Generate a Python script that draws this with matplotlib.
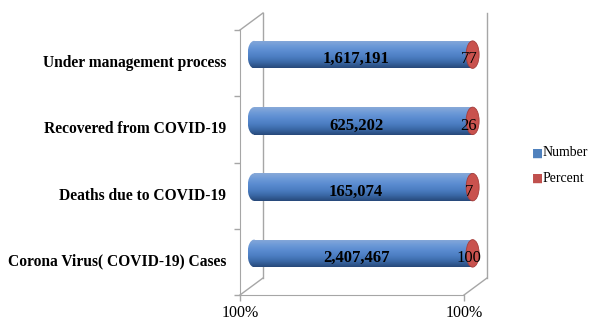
import numpy as np
import matplotlib
matplotlib.use("Agg")
import matplotlib.pyplot as plt
from matplotlib.patches import Rectangle, Ellipse
from matplotlib.colors import LinearSegmentedColormap

# data (bottom to top, like the excel chart)
categories = ['Corona Virus( COVID-19) Cases', 'Deaths due to COVID-19',
              'Recovered from COVID-19', 'Under management process']
numbers = [2407467, 165074, 625202, 1617191]
percents = [100, 7, 26, 77]
number_labels = ['2,407,467', '165,074', '625,202', '1,617,191']
xtick_labels = ['100%', '100%']

plt.rcParams['font.family'] = ['Liberation Serif', 'DejaVu Serif']

fig = plt.figure(figsize=(5.9, 3.23), dpi=100)
# front plane of the 3d box
ax = fig.add_axes([240 / 590, 1 - 295 / 323, 224 / 590, 265 / 323])
ax.set_xlim(0, 1)
ax.set_ylim(-0.5, 3.5)

grey = '#a6a6a6'
dx = 23 / 224          # depth offset in x units
dy = 17 / 265 * 4      # depth offset in y units

# box lines
ax.plot([0, dx], [-0.5, -0.5 + dy], color=grey, lw=1, clip_on=False)
ax.plot([1, 1 + dx], [-0.5, -0.5 + dy], color=grey, lw=1, clip_on=False)
ax.plot([dx, dx], [-0.5 + dy, 3.5 + dy], color=grey, lw=1, clip_on=False)
ax.plot([1 + dx, 1 + dx], [-0.5 + dy, 3.5 + dy], color=grey, lw=1, clip_on=False)
ax.plot([0, dx], [3.5, 3.5 + dy], color=grey, lw=1, clip_on=False)

for s in ['top', 'right']:
    ax.spines[s].set_visible(False)
for s in ['left', 'bottom']:
    ax.spines[s].set_color(grey)

ax.set_yticks([-0.5, 0.5, 1.5, 2.5, 3.5])
ax.set_yticklabels([])
ax.set_xticks([0, 1])
ax.set_xticklabels(xtick_labels, fontsize=11.5)
ax.tick_params(axis='both', color=grey, length=4, width=1)
ax.tick_params(axis='x', pad=3)

for i, c in enumerate(categories):
    ax.text(-0.062, i, c, ha='right', va='center', fontsize=11.2,
            fontweight='bold', transform=ax.transData)

blue_cmap = LinearSegmentedColormap.from_list(
    'cyl', ['#27497a', '#3a68a6', '#4c7ec2', '#5a8bd0', '#6d9ad8', '#88a9d8'])
grad = np.linspace(0, 1, 64).reshape(-1, 1)

bar_left = 0.0625
bar_len = 0.976
bh = 0.415
cap_w = 0.058

for i in range(len(categories)):
    total = numbers[i] + percents[i]
    fn = numbers[i] / total
    yc = i + dy / 2
    x1 = bar_left + fn * bar_len
    x2 = bar_left + bar_len
    # blue body
    rect = Rectangle((bar_left, yc - bh / 2), x1 - bar_left, bh,
                     facecolor='none', edgecolor='none', clip_on=False)
    ax.add_patch(rect)
    im = ax.imshow(grad, cmap=blue_cmap, aspect='auto', origin='lower',
                   extent=[bar_left, x1, yc - bh / 2, yc + bh / 2], zorder=2)
    im.set_clip_path(rect)
    cap = Ellipse((bar_left, yc), cap_w, bh, facecolor='none',
                  edgecolor='none', clip_on=False)
    ax.add_patch(cap)
    im2 = ax.imshow(grad, cmap=blue_cmap, aspect='auto', origin='lower',
                    extent=[bar_left - cap_w / 2, bar_left, yc - bh / 2, yc + bh / 2],
                    zorder=2)
    im2.set_clip_path(cap)
    # red part (percent) and end cap
    ax.add_patch(Rectangle((x1, yc - bh / 2), x2 - x1, bh, facecolor='#b8433f',
                           edgecolor='none', zorder=3, clip_on=False))
    ax.add_patch(Ellipse((x2, yc), cap_w, bh, facecolor='#c9524e',
                         edgecolor='#a63d3a', lw=0.6, zorder=3, clip_on=False))
    # labels
    ax.text(fn / 2 + 0.018, yc - 0.07, number_labels[i], ha='center',
            va='center', fontsize=12, fontweight='bold', zorder=5)
    ax.text(x2 - 0.016, yc - 0.07, str(percents[i]), ha='center', va='center',
            fontsize=12, zorder=5)

ax.set_xlim(0, 1)
ax.set_ylim(-0.5, 3.5)

# legend
fig.text(532 / 590, 1 - 153 / 323, '\u25a0', color='#4f81bd', fontsize=8.5,
         ha='left', va='center', family='DejaVu Sans')
fig.text(543 / 590, 1 - 153 / 323, 'Number', fontsize=10, ha='left', va='center')
fig.text(532 / 590, 1 - 178 / 323, '\u25a0', color='#c0504d', fontsize=8.5,
         ha='left', va='center', family='DejaVu Sans')
fig.text(543 / 590, 1 - 178 / 323, 'Percent', fontsize=10, ha='left', va='center')

fig.savefig('out.png', dpi=100)
